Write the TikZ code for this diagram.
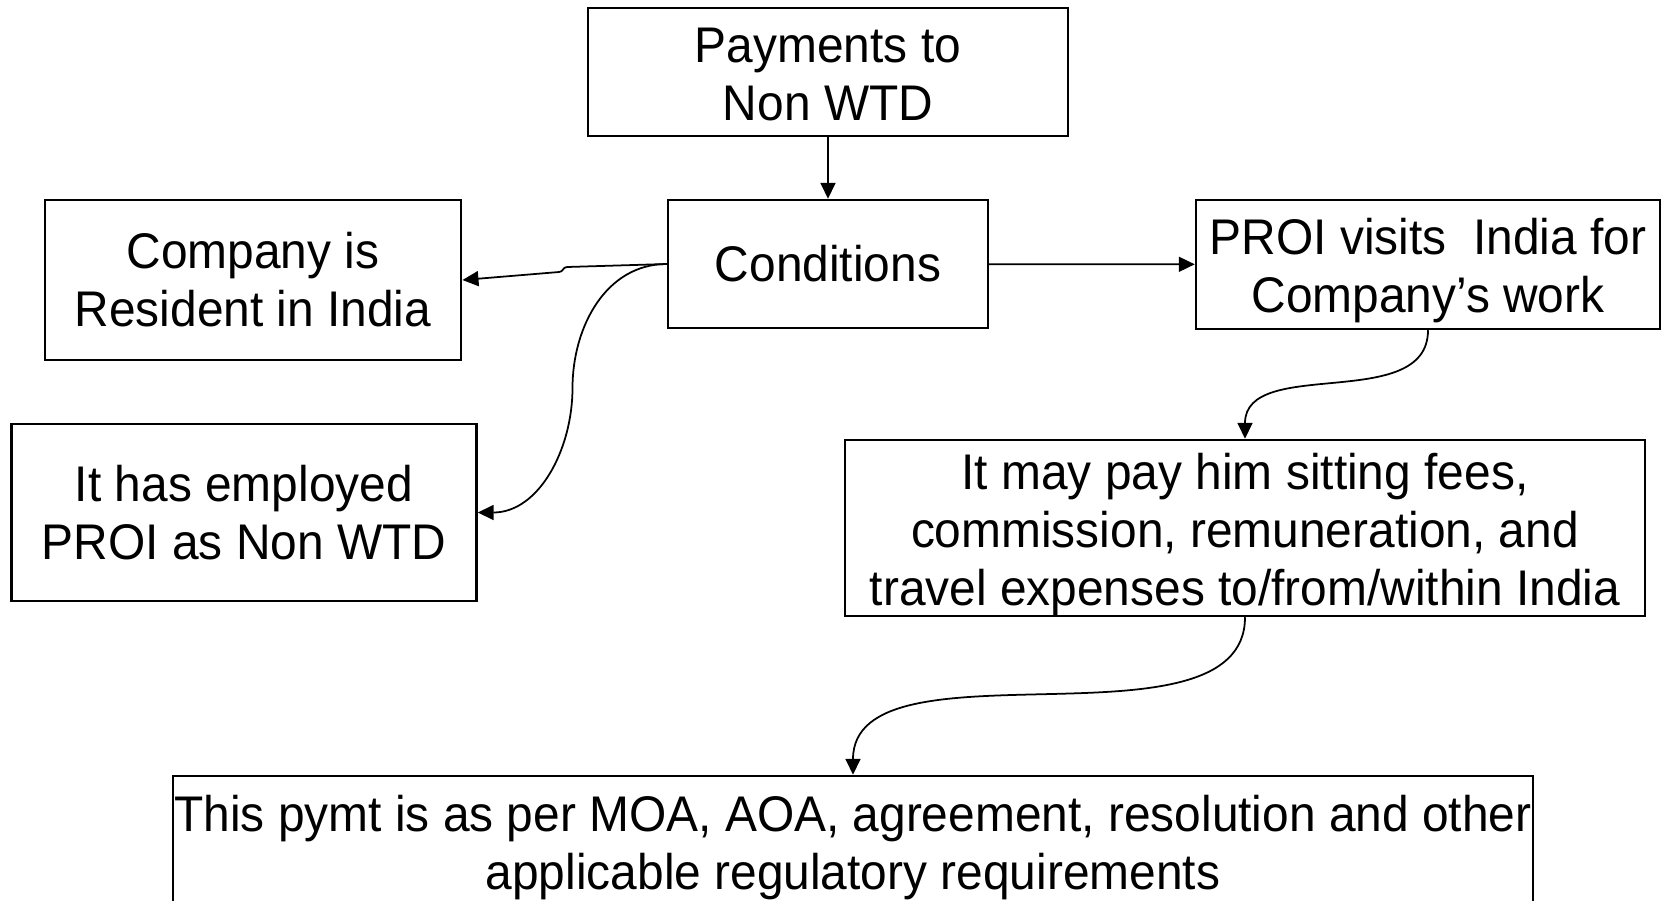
\documentclass[tikz,border=0pt]{standalone}
\usepackage{fontspec}
\setmainfont{Liberation Sans}[FakeStretch=0.956]
\usetikzlibrary{arrows.meta}
\newcommand\topgap[1]{\rule{0pt}{#1}}
\tikzset{
  blk/.style={draw, line width=1.4pt, align=center, inner sep=0pt,
    font=\fontsize{28.5}{33}\selectfont},
  arr/.style={line width=1pt, -{Triangle[length=0.32cm,width=0.3cm]}}
}
\begin{document}
\begin{tikzpicture}
\useasboundingbox (0,0) rectangle (33.24,-18);
\node[blk, minimum width=9.6cm, minimum height=2.55cm] (pay) at (16.56,-1.44) {\topgap{0.78cm}Payments to\\Non WTD};
\node[blk, minimum width=6.4cm, minimum height=2.56cm] (cond) at (16.56,-5.28) {Conditions};
\node[blk, minimum width=8.33cm, minimum height=3.2cm] (comp) at (5.06,-5.6) {Company is\\Resident in India};
\node[blk, minimum width=9.3cm, minimum height=3.54cm] (emp) at (4.88,-10.25) {It has employed\\PROI as Non WTD};
\node[blk, minimum width=9.28cm, minimum height=2.58cm] (proi) at (28.56,-5.29) {\topgap{0.96cm}PROI visits\ \ India for\\Company’s work};
\node[blk, minimum width=16cm, minimum height=3.52cm] (fees) at (24.9,-10.56) {\topgap{0.98cm}It may pay him sitting fees,\\commission, remuneration, and\\travel expenses to/from/within India};
\node[blk, minimum width=27.2cm, minimum height=2.56cm] (pymt) at (17.06,-16.8) {\topgap{1.03cm}This pymt is as per MOA, AOA, agreement, resolution and other\\applicable regulatory requirements};
\coordinate (k1) at (11.34,-5.34);
\coordinate (k2) at (11.18,-5.44);
\coordinate (m1) at (11.45,-7.76);
\draw[arr] (pay) -- (cond);
\draw[arr] (cond.west) -- (k1) .. controls (11.26,-5.34) and (11.26,-5.44) .. (k2) -- (comp.east);
\draw[arr] (cond.west) to[out=180,in=90] (m1) to[out=-90,in=0] (emp.east);
\draw[arr] (cond) -- (proi);
\draw[arr] (proi.south) to[out=-90,in=90] (fees.north);
\draw[arr] (fees.south) to[out=-90,in=90,looseness=0.85] (pymt.north);
\end{tikzpicture}
\end{document}
